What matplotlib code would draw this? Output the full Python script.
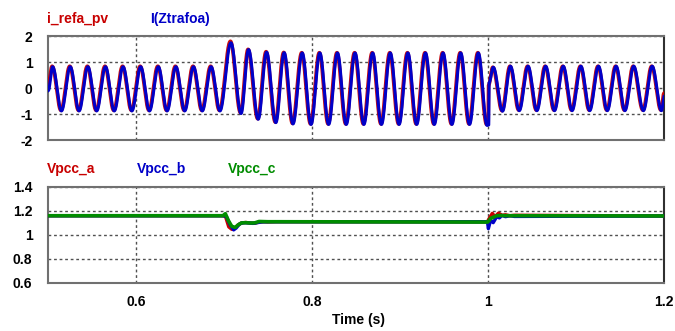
import numpy as np
import matplotlib
matplotlib.use("Agg")
import matplotlib.pyplot as plt

plt.rcParams['font.family'] = ['Liberation Sans', 'DejaVu Sans']

# ---------------- data ----------------
# extremum instants (s) of the current waveforms (peaks / troughs)
T_EXT = [0.500,
         0.505, 0.515, 0.525, 0.535, 0.545, 0.555, 0.565, 0.575, 0.585, 0.595,
         0.605, 0.615, 0.625, 0.635, 0.645, 0.655, 0.665, 0.675, 0.685, 0.695,
         0.7075, 0.719, 0.7275, 0.7385, 0.748, 0.7585, 0.768, 0.778,
         0.7885, 0.7985, 0.8085, 0.8185, 0.8285, 0.8385, 0.8485, 0.8585, 0.8685, 0.8785,
         0.8885, 0.8985, 0.9085, 0.9185, 0.9285, 0.9385, 0.9485, 0.9585, 0.9685, 0.9785,
         0.9885, 0.9985, 1.0003, 1.0006,
         1.0055, 1.0160, 1.0250, 1.0350, 1.0450, 1.0550, 1.0650, 1.0750, 1.0850, 1.0950,
         1.1050, 1.1150, 1.1250, 1.1350, 1.1450, 1.1550, 1.1650, 1.1760, 1.1860, 1.1965,
         1.2000]

I_REFA_PV = [0.05,
             0.84, -0.86, 0.84, -0.86, 0.84, -0.86, 0.84, -0.86, 0.84, -0.86,
             0.84, -0.86, 0.84, -0.86, 0.84, -0.86, 0.84, -0.86, 0.84, -0.86,
             1.80, -0.95, 1.49, -1.18, 1.40, -1.31, 1.37, -1.36,
             1.36, -1.38, 1.36, -1.38, 1.36, -1.38, 1.36, -1.38, 1.36, -1.38,
             1.36, -1.38, 1.36, -1.38, 1.36, -1.38, 1.36, -1.38, 1.36, -1.38,
             1.36, -1.40, -1.38, 0.10,
             0.80, -0.87, 0.84, -0.85, 0.84, -0.85, 0.84, -0.85, 0.84, -0.85,
             0.84, -0.85, 0.84, -0.85, 0.84, -0.85, 0.84, -0.85, 0.84, -0.85,
             -0.20]

I_ZTRAFOA = [-0.10,
             0.82, -0.88, 0.82, -0.88, 0.82, -0.88, 0.82, -0.88, 0.82, -0.88,
             0.82, -0.88, 0.82, -0.88, 0.82, -0.88, 0.82, -0.88, 0.82, -0.88,
             1.74, -0.98, 1.48, -1.20, 1.38, -1.33, 1.36, -1.38,
             1.35, -1.40, 1.35, -1.40, 1.35, -1.40, 1.35, -1.40, 1.35, -1.40,
             1.35, -1.40, 1.35, -1.40, 1.35, -1.40, 1.35, -1.40, 1.35, -1.40,
             1.35, -1.44, -1.42, 0.20,
             0.80, -0.89, 0.84, -0.87, 0.84, -0.87, 0.84, -0.87, 0.84, -0.87,
             0.84, -0.87, 0.84, -0.87, 0.84, -0.87, 0.84, -0.87, 0.84, -0.87,
             -0.30]

I_ZTRAFOA_LAG = 0.0006  # s, blue trace lags the reference slightly

# PCC voltages (pu)
T_VA = [0.5, 0.699, 0.702, 0.7056, 0.709, 0.712, 0.716, 0.72, 0.725, 0.73, 0.735, 0.74, 0.745, 0.75, 0.76,
        0.9995, 1.001, 1.005, 1.008, 1.012, 1.016, 1.02, 1.025, 1.03, 1.2]
V_A = [1.158, 1.158, 1.150, 1.065, 1.045, 1.050, 1.080, 1.098, 1.102, 1.097, 1.095, 1.105, 1.108, 1.106, 1.108,
       1.108, 1.130, 1.178, 1.150, 1.180, 1.162, 1.166, 1.158, 1.162, 1.156]

T_VB = [0.5, 0.700, 0.703, 0.707, 0.7112, 0.714, 0.718, 0.722, 0.728, 0.733, 0.738, 0.743, 0.75, 0.76,
        0.9995, 1.0005, 1.003, 1.006, 1.010, 1.013, 1.016, 1.02, 1.025, 1.03, 1.2]
V_B = [1.158, 1.158, 1.150, 1.085, 1.040, 1.055, 1.090, 1.100, 1.098, 1.094, 1.100, 1.106, 1.108, 1.108,
       1.108, 1.050, 1.120, 1.100, 1.150, 1.140, 1.160, 1.150, 1.158, 1.152, 1.156]

T_VC = [0.5, 0.699, 0.7018, 0.705, 0.709, 0.713, 0.716, 0.72, 0.725, 0.73, 0.735, 0.74, 0.75, 0.76,
        0.9995, 1.001, 1.003, 1.006, 1.010, 1.015, 1.02, 1.2]
V_C = [1.158, 1.158, 1.175, 1.120, 1.070, 1.060, 1.080, 1.098, 1.100, 1.097, 1.098, 1.110, 1.108, 1.108,
       1.105, 1.115, 1.135, 1.145, 1.158, 1.160, 1.158, 1.156]

X_TICKS = [0.6, 0.8, 1.0, 1.2]
X_TICK_LABELS = ['0.6', '0.8', '1', '1.2']
TOP_Y_TICKS = [2, 1, 0, -1, -2]
BOT_Y_TICKS = [1.4, 1.2, 1.0, 0.8, 0.6]
BOT_Y_LABELS = ['1.4', '1.2', '1', '0.8', '0.6']


def extrema_wave(t_ext, v_ext, n=40):
    """Join consecutive extrema with half-cosine segments (sine-like shape)."""
    ts, vs = [], []
    for i in range(len(t_ext) - 1):
        s = np.linspace(0, 1, n, endpoint=False)
        ts.append(t_ext[i] + (t_ext[i + 1] - t_ext[i]) * s)
        vs.append(v_ext[i] + (v_ext[i + 1] - v_ext[i]) * (1 - np.cos(np.pi * s)) / 2)
    ts.append([t_ext[-1]])
    vs.append([v_ext[-1]])
    return np.concatenate(ts), np.concatenate(vs)


RED = '#C80000'
BLUE = '#0000C8'
GREEN = '#008C00'
SPINE = '#707070'
GRID = '#505050'
BOLD = dict(fontweight='bold', fontsize=10)

fig = plt.figure(figsize=(6.75, 3.31), dpi=100)
ax1 = fig.add_axes([0.0707, 0.577, 0.913, 0.314])
ax2 = fig.add_axes([0.0707, 0.146, 0.913, 0.290])

# top panel
tr, vr = extrema_wave(T_EXT, I_REFA_PV)
tb, vb = extrema_wave([t + I_ZTRAFOA_LAG for t in T_EXT], I_ZTRAFOA)
ax1.plot(tr, vr, color=RED, lw=2.6, alpha=0.95, zorder=3)
ax1.plot(tb, vb, color=BLUE, lw=2.2, zorder=4)
ax1.set_ylim(-2, 2)
ax1.set_yticks(TOP_Y_TICKS)
ax1.set_yticklabels([str(v) for v in TOP_Y_TICKS])
ax1.set_xticks(X_TICKS)
ax1.set_xticklabels([])

# bottom panel
ax2.plot(T_VA, V_A, color=RED, lw=2.4, zorder=3)
ax2.plot(T_VB, V_B, color=BLUE, lw=2.4, zorder=4)
ax2.plot(T_VC, V_C, color=GREEN, lw=2.6, zorder=5)
ax2.set_ylim(0.6, 1.4)
ax2.set_yticks(BOT_Y_TICKS)
ax2.set_yticklabels(BOT_Y_LABELS)
ax2.set_xticks(X_TICKS)
ax2.set_xticklabels(X_TICK_LABELS)

for ax in (ax1, ax2):
    ax.set_xlim(0.5, 1.2)
    ax.grid(True, linestyle=(0, (2, 2)), color=GRID, linewidth=1.0)
    ax.tick_params(length=0, pad=11, labelsize=10)
    for lab in ax.get_xticklabels() + ax.get_yticklabels():
        lab.set_fontweight('bold')
    for sp in ax.spines.values():
        sp.set_color(SPINE)
        sp.set_linewidth(1.5)
    ax.spines['right'].set_color('#303030')
    ax.set_axisbelow(True)

ax2.tick_params(axis='x', pad=9)

# legends as coloured titles
fig.text(47 / 675, 1 - 18.5 / 331, 'i_refa_pv', color=RED, va='center', ha='left', **BOLD)
fig.text(150 / 675, 1 - 18.5 / 331, 'I(Ztrafoa)', color=BLUE, va='center', ha='left', **BOLD)
fig.text(47 / 675, 1 - 169 / 331, 'Vpcc_a', color=RED, va='center', ha='left', **BOLD)
fig.text(137 / 675, 1 - 169 / 331, 'Vpcc_b', color=BLUE, va='center', ha='left', **BOLD)
fig.text(228 / 675, 1 - 169 / 331, 'Vpcc_c', color=GREEN, va='center', ha='left', **BOLD)
fig.text(358 / 675, 1 - 320 / 331, 'Time (s)', color='black', va='center', ha='center', **BOLD)

fig.savefig('out.png', dpi=100)
